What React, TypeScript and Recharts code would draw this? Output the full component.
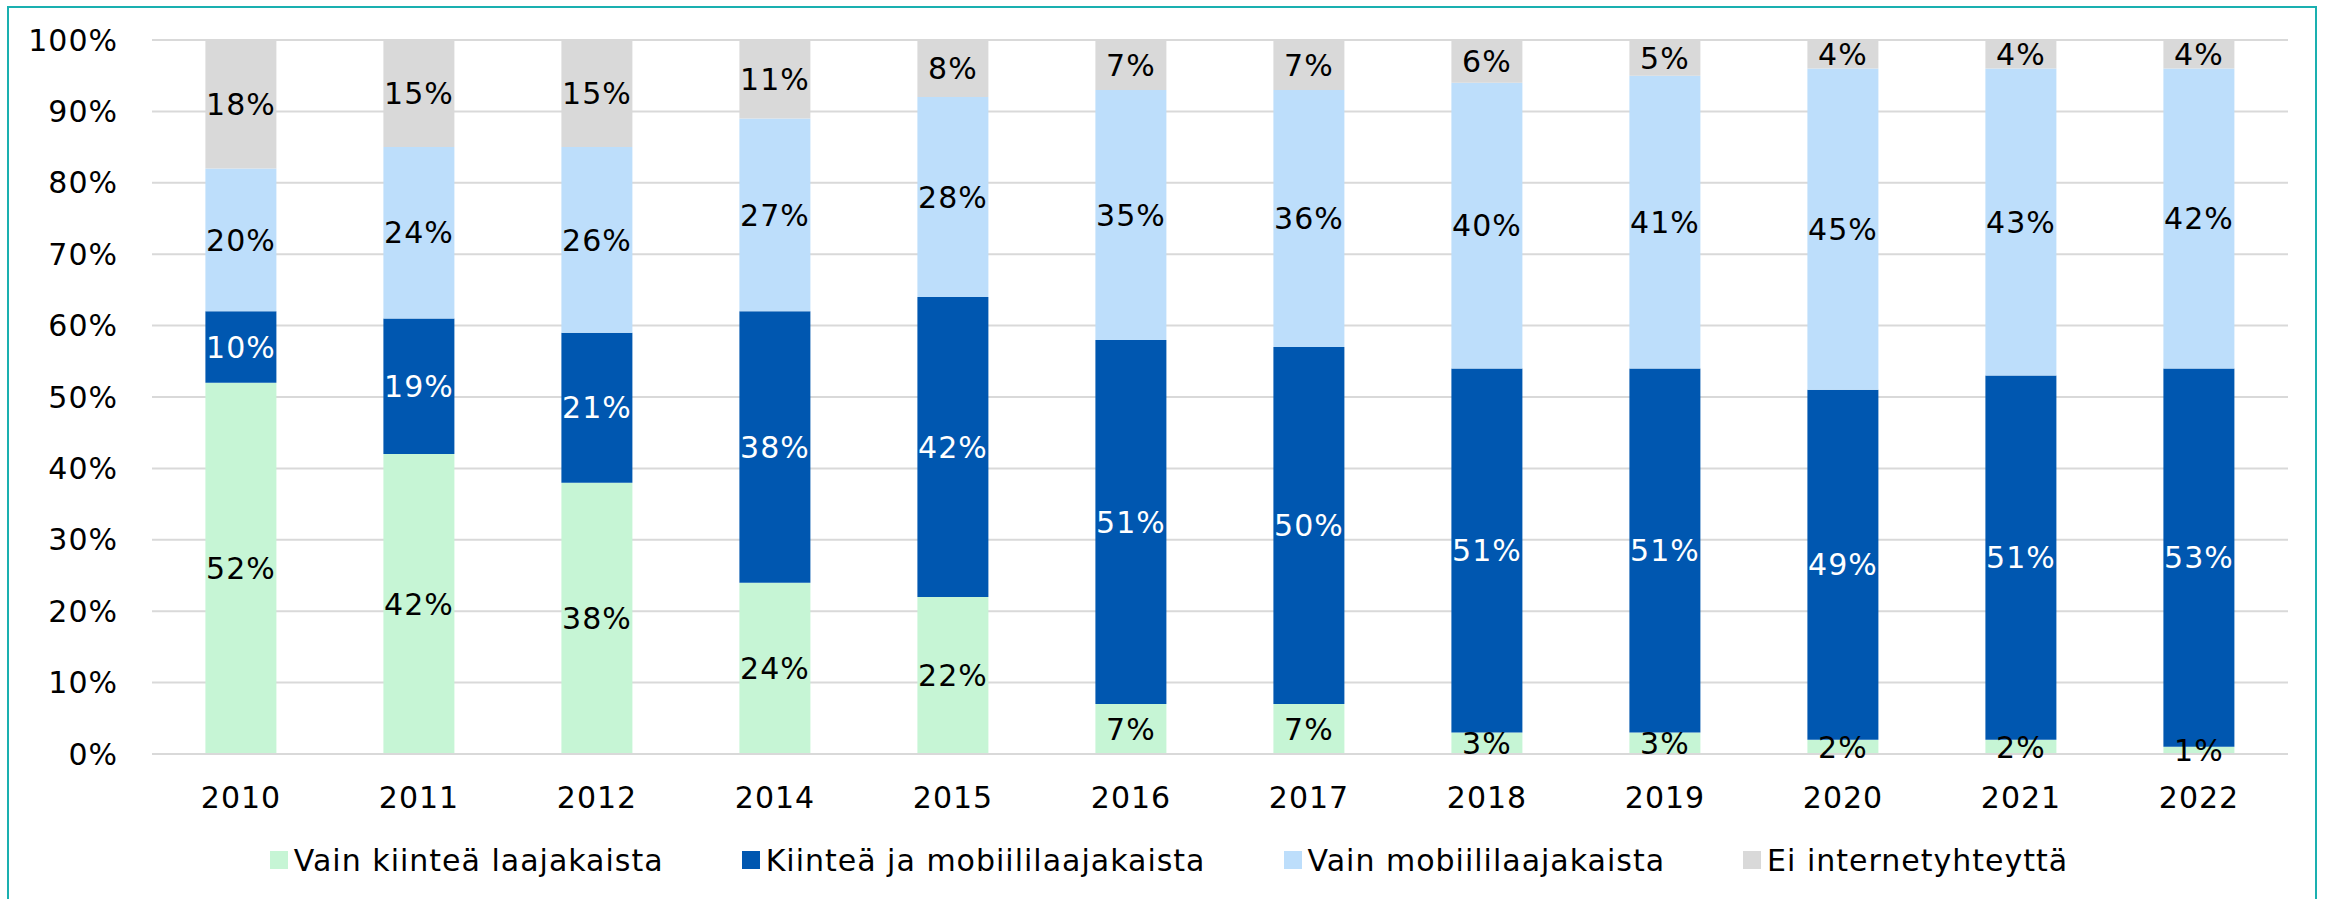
import { BarChart, Bar, XAxis, YAxis, CartesianGrid, Legend, LabelList } from 'recharts'

const years = ['2010', '2011', '2012', '2014', '2015', '2016', '2017', '2018', '2019', '2020', '2021', '2022']
const fixedOnly = [52, 42, 38, 24, 22, 7, 7, 3, 3, 2, 2, 1]
const fixedAndMobile = [10, 19, 21, 38, 42, 51, 50, 51, 51, 49, 51, 53]
const mobileOnly = [20, 24, 26, 27, 28, 35, 36, 40, 41, 45, 43, 42]
const noInternet = [18, 15, 15, 11, 8, 7, 7, 6, 5, 4, 4, 4]
const yTicks = [0, 10, 20, 30, 40, 50, 60, 70, 80, 90, 100]

const SERIES = [
  { key: 'fixedOnly', name: 'Vain kiinteä laajakaista', color: '#c6f5d5', text: '#000' },
  { key: 'fixedAndMobile', name: 'Kiinteä ja mobiililaajakaista', color: '#0057b0', text: '#fff' },
  { key: 'mobileOnly', name: 'Vain mobiililaajakaista', color: '#bddefb', text: '#000' },
  { key: 'noInternet', name: 'Ei internetyhteyttä', color: '#d9d9d9', text: '#000' },
]

const data = years.map((year, i) => ({
  year,
  fixedOnly: fixedOnly[i],
  fixedAndMobile: fixedAndMobile[i],
  mobileOnly: mobileOnly[i],
  noInternet: noInternet[i],
}))

const FONT = '"DejaVu Sans", Verdana, sans-serif'
const tickStyle = { fontSize: 30, fill: '#000', fontFamily: FONT, letterSpacing: 1 }

function renderLegend() {
  return (
    <div
      style={{
        display: 'flex',
        justifyContent: 'center',
        alignItems: 'center',
        height: 40,
        gap: 78,
        paddingLeft: 18,
        fontFamily: FONT,
        fontSize: 30,
        letterSpacing: 1,
        color: '#000',
      }}
    >
      {SERIES.map((s) => (
        <div key={s.key} style={{ display: 'flex', alignItems: 'center' }}>
          <span style={{ width: 18, height: 18, background: s.color, marginRight: 6, display: 'inline-block' }} />
          <span>{s.name}</span>
        </div>
      ))}
    </div>
  )
}

export default function App() {
  return (
    <div style={{ position: 'absolute', left: 0, top: 0, width: 2328, height: 899, background: '#fff', overflow: 'hidden' }}>
      <div
        style={{
          position: 'absolute',
          left: 7,
          top: 6,
          width: 2310,
          height: 920,
          border: '2px solid #1ab0b0',
          boxSizing: 'border-box',
        }}
      />
      <div style={{ position: 'absolute', left: 0, top: 0 }}>
        <BarChart
          width={2328}
          height={899}
          data={data}
          barCategoryGap="30%"
          margin={{ top: 40, right: 40, left: 32, bottom: 19 }}
        >
          <CartesianGrid vertical={false} stroke="#d9d9d9" strokeWidth={2} />
          <XAxis
            dataKey="year"
            height={86}
            axisLine={{ stroke: '#d9d9d9', strokeWidth: 2 }}
            tickLine={false}
            tickSize={0}
            tickMargin={33}
            tick={tickStyle}
          />
          <YAxis
            width={120}
            domain={[0, 100]}
            ticks={yTicks}
            axisLine={false}
            tickLine={false}
            tickSize={0}
            tickMargin={34}
            tickFormatter={(v: number) => `${v}%`}
            tick={tickStyle}
          />
          <Legend verticalAlign="bottom" height={40} content={renderLegend} />
          {SERIES.map((s) => (
            <Bar key={s.key} dataKey={s.key} name={s.name} stackId="a" fill={s.color} isAnimationActive={false}>
              <LabelList
                dataKey={s.key}
                position="center"
                formatter={(v: number) => `${v}%`}
                style={{ fontSize: 30, fill: s.text, fontFamily: FONT, letterSpacing: 1 }}
              />
            </Bar>
          ))}
        </BarChart>
      </div>
    </div>
  )
}
